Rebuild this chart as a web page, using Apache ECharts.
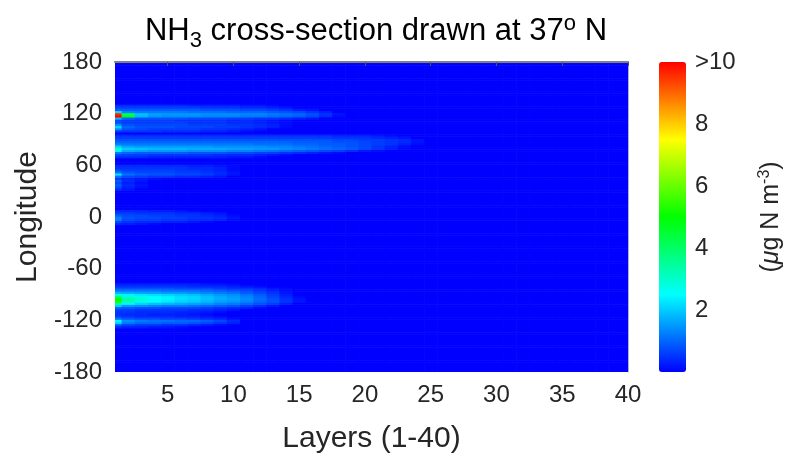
<!DOCTYPE html>
<html>
<head>
<meta charset="utf-8">
<script src="https://cdn.jsdelivr.net/npm/echarts@6.0.0/dist/echarts.min.js"></script>
<style>
  html, body { margin: 0; background: #fff; }
  #chart { width: 787px; height: 460px; }
</style>
</head>
<body>
<div id="chart"></div>
<script>
// Layers along the x axis and the ticks shown on it
const layers = [1, 2, 3, 4, 5, 6, 7, 8, 9, 10, 11, 12, 13, 14, 15, 16, 17, 18, 19, 20,
                21, 22, 23, 24, 25, 26, 27, 28, 29, 30, 31, 32, 33, 34, 35, 36, 37, 38, 39, 40];
const layerTicks = [5, 10, 15, 20, 25, 30, 35, 40];

// Longitude grid spacing (deg); rows not listed below are ~0
const lonStep = 2.5;

// Longitudes of the rows that carry NH3, and their values per layer (from layer 1, ug N m-3)
const rowLons = [
  130, 127.5, 125, 122.5, 120, 117.5, 115, 112.5, 110, 107.5, 105, 102.5, 100,
  95, 92.5, 90, 87.5, 85, 82.5, 80, 77.5, 75, 72.5, 70,
  60, 57.5, 55, 52.5, 50, 47.5, 45, 42.5, 40, 37.5, 35, 32.5,
  7.5, 5, 2.5, 0, -2.5, -5, -7.5,
  -77.5, -80, -82.5, -85, -87.5, -90, -92.5, -95, -97.5, -100, -102.5, -105, -107.5, -110, -112.5,
  -115, -117.5, -120, -122.5, -125, -127.5
];
const rowValues = [
  [0.4, 0.4, 0.4, 0.4, 0.4, 0.4, 0.3, 0.3, 0.3, 0.3, 0.2, 0.2, 0.1],
  [0.6, 0.6, 0.6, 0.6, 0.6, 0.6, 0.6, 0.5, 0.5, 0.5, 0.4, 0.4, 0.3, 0.2],
  [0.9, 0.9, 0.9, 0.9, 0.9, 0.9, 0.9, 0.8, 0.8, 0.8, 0.7, 0.7, 0.6, 0.5, 0.3, 0.2],
  [2.2, 1.3, 1.2, 1.2, 1.2, 1.2, 1.1, 1.1, 1.1, 1.0, 1.0, 1.0, 0.9, 0.8, 0.7, 0.5, 0.3],
  [9.6, 4.2, 1.9, 1.6, 1.5, 1.5, 1.5, 1.4, 1.4, 1.4, 1.3, 1.3, 1.2, 1.1, 1.0, 0.8, 0.5, 0.2],
  [11, 4.6, 1.8, 1.5, 1.4, 1.4, 1.4, 1.3, 1.3, 1.3, 1.2, 1.2, 1.1, 1.0, 0.9, 0.7, 0.4, 0.1],
  [1.8, 1.0, 0.8, 0.8, 0.8, 0.8, 0.7, 0.7, 0.7, 0.6, 0.6, 0.5, 0.5, 0.4, 0.3, 0.2],
  [0.7, 0.6, 0.6, 0.6, 0.6, 0.5, 0.5, 0.5, 0.5, 0.4, 0.4, 0.3, 0.2, 0.1],
  [0.8, 0.6, 0.6, 0.6, 0.6, 0.6, 0.5, 0.5, 0.5, 0.4, 0.4, 0.3, 0.2, 0.1],
  [1.4, 0.8, 0.7, 0.7, 0.7, 0.7, 0.6, 0.6, 0.6, 0.5, 0.5, 0.4, 0.3, 0.1],
  [2.1, 1.0, 0.8, 0.8, 0.8, 0.7, 0.7, 0.7, 0.6, 0.6, 0.5, 0.4, 0.3, 0.1],
  [1.4, 0.8, 0.7, 0.6, 0.6, 0.6, 0.6, 0.5, 0.5, 0.4, 0.3, 0.2],
  [0.5, 0.5, 0.5, 0.5, 0.4, 0.4, 0.4, 0.3, 0.3, 0.2, 0.1],
  [0.4, 0.4, 0.4, 0.4, 0.4, 0.4, 0.4, 0.4, 0.4, 0.4, 0.4, 0.4, 0.4, 0.4, 0.4, 0.4, 0.4, 0.3, 0.3, 0.3, 0.2, 0.1],
  [0.6, 0.6, 0.6, 0.6, 0.6, 0.6, 0.6, 0.6, 0.6, 0.6, 0.6, 0.6, 0.6, 0.6, 0.6, 0.6, 0.6, 0.5, 0.5, 0.5, 0.4, 0.3, 0.2],
  [0.8, 0.8, 0.8, 0.8, 0.8, 0.8, 0.8, 0.8, 0.8, 0.8, 0.8, 0.8, 0.8, 0.8, 0.8, 0.8, 0.8, 0.7, 0.7, 0.6, 0.6, 0.5, 0.4, 0.2],
  [1.0, 1.0, 1.0, 1.0, 1.0, 1.0, 1.0, 1.0, 1.0, 1.0, 1.0, 1.0, 1.0, 1.0, 0.9, 0.9, 0.9, 0.8, 0.8, 0.7, 0.6, 0.5, 0.4, 0.2],
  [1.3, 1.2, 1.2, 1.2, 1.2, 1.2, 1.2, 1.2, 1.2, 1.2, 1.2, 1.1, 1.1, 1.1, 1.0, 1.0, 0.9, 0.9, 0.8, 0.7, 0.6, 0.5, 0.3, 0.1],
  [2.0, 1.6, 1.5, 1.5, 1.5, 1.5, 1.5, 1.5, 1.4, 1.4, 1.4, 1.4, 1.3, 1.3, 1.2, 1.1, 1.0, 0.9, 0.8, 0.7, 0.5, 0.3, 0.1],
  [3.0, 2.0, 1.9, 1.8, 1.8, 1.8, 1.7, 1.7, 1.7, 1.6, 1.6, 1.5, 1.5, 1.4, 1.3, 1.2, 1.1, 1.0, 0.9, 0.7, 0.5, 0.3, 0.1],
  [2.4, 1.7, 1.6, 1.5, 1.5, 1.5, 1.4, 1.4, 1.4, 1.3, 1.3, 1.2, 1.1, 1.0, 0.9, 0.8, 0.7, 0.6, 0.4, 0.2, 0.1],
  [1.2, 1.0, 0.9, 0.9, 0.9, 0.9, 0.8, 0.8, 0.8, 0.7, 0.7, 0.6, 0.6, 0.5, 0.4, 0.3, 0.2, 0.1],
  [0.7, 0.6, 0.6, 0.5, 0.5, 0.5, 0.5, 0.5, 0.4, 0.4, 0.4, 0.3, 0.2, 0.1],
  [0.4, 0.4, 0.4, 0.3, 0.3, 0.3, 0.3, 0.3, 0.3, 0.2, 0.2, 0.1],
  [0.4, 0.4, 0.4, 0.4, 0.4, 0.4, 0.3, 0.3, 0.2, 0.1],
  [0.5, 0.5, 0.5, 0.5, 0.5, 0.5, 0.4, 0.4, 0.3, 0.1],
  [0.7, 0.6, 0.6, 0.6, 0.6, 0.5, 0.5, 0.4, 0.3, 0.1],
  [1.1, 0.8, 0.7, 0.7, 0.7, 0.6, 0.6, 0.5, 0.4, 0.2],
  [2.2, 1.1, 0.9, 0.8, 0.8, 0.7, 0.7, 0.6, 0.4, 0.2],
  [1.1, 0.7, 0.6, 0.5, 0.5, 0.4, 0.4, 0.3, 0.2],
  [0.5, 0.3, 0.2, 0.1],
  [0.9, 0.4, 0.2],
  [0.7, 0.3, 0.1],
  [0.9, 0.4, 0.2],
  [0.7, 0.3, 0.1],
  [0.4, 0.2],
  [0.4, 0.4, 0.4, 0.3, 0.3, 0.2, 0.1],
  [0.6, 0.6, 0.5, 0.5, 0.5, 0.4, 0.4, 0.3, 0.2],
  [0.9, 0.7, 0.7, 0.6, 0.6, 0.5, 0.5, 0.4, 0.3, 0.1],
  [1.2, 0.8, 0.7, 0.7, 0.6, 0.6, 0.5, 0.5, 0.4, 0.2],
  [1.2, 0.7, 0.6, 0.6, 0.5, 0.5, 0.4, 0.4, 0.3, 0.1],
  [0.7, 0.5, 0.4, 0.4, 0.3, 0.3, 0.2, 0.1],
  [0.4, 0.3, 0.2, 0.1],
  [0.3, 0.3, 0.3, 0.3, 0.3, 0.3, 0.3, 0.2, 0.2, 0.1],
  [0.5, 0.5, 0.5, 0.5, 0.5, 0.5, 0.4, 0.4, 0.4, 0.3, 0.2, 0.1],
  [0.8, 0.8, 0.8, 0.8, 0.8, 0.7, 0.7, 0.7, 0.6, 0.5, 0.5, 0.4, 0.2, 0.1],
  [1.2, 1.2, 1.2, 1.2, 1.1, 1.1, 1.1, 1.0, 0.9, 0.8, 0.7, 0.5, 0.3, 0.1],
  [1.8, 1.7, 1.6, 1.6, 1.5, 1.5, 1.4, 1.3, 1.2, 1.1, 0.9, 0.7, 0.5, 0.2],
  [2.9, 2.4, 2.3, 2.2, 2.1, 2.0, 1.9, 1.7, 1.5, 1.4, 1.2, 0.9, 0.6, 0.3],
  [4.0, 3.0, 2.7, 2.5, 2.4, 2.2, 2.1, 1.9, 1.7, 1.5, 1.3, 1.0, 0.7, 0.4, 0.1],
  [5.0, 3.4, 2.9, 2.6, 2.4, 2.2, 2.1, 1.9, 1.7, 1.6, 1.4, 1.1, 0.8, 0.5, 0.2],
  [5.2, 3.3, 2.8, 2.5, 2.3, 2.1, 2.0, 1.8, 1.6, 1.5, 1.3, 1.0, 0.8, 0.5, 0.2],
  [3.6, 2.4, 2.1, 1.9, 1.8, 1.7, 1.6, 1.5, 1.3, 1.2, 1.0, 0.8, 0.6, 0.3],
  [2.0, 1.5, 1.4, 1.3, 1.2, 1.2, 1.1, 1.0, 0.9, 0.8, 0.6, 0.4, 0.2],
  [1.0, 0.9, 0.8, 0.8, 0.7, 0.7, 0.7, 0.6, 0.5, 0.4, 0.3, 0.1],
  [0.6, 0.6, 0.5, 0.5, 0.5, 0.5, 0.4, 0.4, 0.3, 0.2],
  [0.5, 0.5, 0.4, 0.4, 0.4, 0.3, 0.3, 0.2, 0.1],
  [0.5, 0.4, 0.4, 0.3, 0.3, 0.3, 0.2, 0.1],
  [0.6, 0.5, 0.4, 0.4, 0.4, 0.3, 0.3, 0.2, 0.1],
  [1.1, 0.8, 0.7, 0.7, 0.6, 0.6, 0.5, 0.4, 0.3, 0.1],
  [2.4, 1.4, 1.2, 1.1, 1.1, 1.0, 1.0, 0.9, 0.7, 0.4],
  [2.1, 1.2, 1.0, 1.0, 0.9, 0.9, 0.8, 0.7, 0.5, 0.3],
  [0.8, 0.6, 0.5, 0.5, 0.4, 0.4, 0.3, 0.2, 0.1],
  [0.4, 0.3, 0.3, 0.2, 0.2, 0.1]
];

// Colour scale (jet-like) and its upper limit
const colorMax = 10;
const jetColors = ['#0000ff', '#00ffff', '#00ff00', '#ffff00', '#ff0000'];

const FONT = '"Liberation Sans", Arial, Helvetica, sans-serif';
const TEXT = '#262626';

/**
 * Build the full layer x longitude table: listed rows, zero elsewhere
 */
function buildCells() {
    const cells = [];
    for (let lon = -180; lon <= 180; lon += lonStep) {
        const idx = rowLons.indexOf(lon);
        const vals = idx >= 0 ? rowValues[idx] : [];
        layers.forEach((layer, i) => {
            const v = i < vals.length ? vals[i] : 0;
            cells.push([layer, lon, Math.min(v, colorMax)]);
        });
    }
    return cells;
}

function renderCell(params, api) {
    const layer = api.value(0);
    const lon = api.value(1);
    const p0 = api.coord([layer - 0.5, lon + lonStep / 2]);
    const p1 = api.coord([layer + 0.5, lon - lonStep / 2]);
    const shape = echarts.graphic.clipRectByRect(
        { x: p0[0], y: p0[1], width: p1[0] - p0[0] + 0.6, height: p1[1] - p0[1] + 0.6 },
        { x: params.coordSys.x, y: params.coordSys.y, width: params.coordSys.width, height: params.coordSys.height }
    );
    return shape && { type: 'rect', shape: shape, style: { fill: api.visual('color') } };
}

const chart = echarts.init(document.getElementById('chart'));

const titleText = { fontFamily: FONT, color: '#000', fontWeight: 'normal' };

const option = {
    animation: false,
    textStyle: { fontFamily: FONT },
    title: {
        text: '{t|NH}{sub|3}{t| cross-section drawn at 37}{sup|o}{t| N}',
        left: 371,
        top: 9,
        textAlign: 'center',
        textStyle: {
            fontWeight: 'normal',
            rich: {
                t: { ...titleText, fontSize: 31, lineHeight: 34 },
                sub: { ...titleText, fontSize: 22, lineHeight: 22, padding: [19, 0, 0, 0] },
                sup: { ...titleText, fontSize: 22, lineHeight: 22, padding: [0, 0, 15, 0] }
            }
        }
    },
    grid: [
        { left: 115, right: 159, top: 62, bottom: 88 },
        { left: 659, width: 27, top: 62, height: 310 }
    ],
    visualMap: {
        type: 'continuous',
        min: 0,
        max: colorMax,
        dimension: 2,
        seriesIndex: 0,
        calculable: false,
        left: 659,
        top: 62,
        padding: 0,
        itemWidth: 27,
        itemHeight: 310,
        inRange: { color: jetColors }
    },
    xAxis: [
        {
            type: 'value',
            gridIndex: 0,
            min: 1,
            max: 40,
            name: 'Layers (1-40)',
            nameLocation: 'middle',
            nameGap: 52,
            nameTextStyle: { fontSize: 30, color: TEXT },
            axisLine: { show: false, onZero: false },
            axisTick: { show: false },
            splitLine: { show: false },
            axisLabel: { customValues: layerTicks, fontSize: 24, color: TEXT, margin: 11 }
        },
        {
            type: 'value',
            gridIndex: 0,
            position: 'top',
            min: 1,
            max: 40,
            z: 10,
            axisLine: { show: true, onZero: false, lineStyle: { color: '#808080', width: 2 } },
            axisTick: { show: true, inside: true, length: 4, customValues: layerTicks, lineStyle: { color: '#555' } },
            axisLabel: { show: false },
            splitLine: { show: false }
        },
        { type: 'value', gridIndex: 1, min: 0, max: 1, show: false }
    ],
    yAxis: [
        {
            type: 'value',
            gridIndex: 0,
            min: -180,
            max: 180,
            interval: 60,
            name: 'Longitude',
            nameLocation: 'middle',
            nameGap: 72,
            nameTextStyle: { fontSize: 30, color: TEXT },
            axisLine: { show: false, onZero: false },
            axisTick: { show: false },
            splitLine: { show: false },
            axisLabel: { fontSize: 24, color: TEXT, margin: 13 }
        },
        {
            type: 'value',
            gridIndex: 0,
            position: 'right',
            min: -180,
            max: 180,
            z: 10,
            axisLine: { show: true, onZero: false, lineStyle: { color: '#b0b0c8', width: 1 } },
            axisTick: { show: false },
            axisLabel: { show: false },
            splitLine: { show: false }
        },
        {
            type: 'value',
            gridIndex: 1,
            position: 'right',
            min: 0,
            max: colorMax,
            interval: 2,
            z: 10,
            name: '{n|(}{mu|μ}{n|g N m}{sup|-3}{n|)}',
            nameLocation: 'middle',
            nameRotate: 90,
            nameGap: 74,
            nameTextStyle: {
                rich: {
                    n: { fontFamily: FONT, fontSize: 25, color: TEXT, lineHeight: 27 },
                    mu: { fontFamily: FONT, fontSize: 25, color: TEXT, fontStyle: 'italic', lineHeight: 27 },
                    sup: { fontFamily: FONT, fontSize: 16, color: TEXT, lineHeight: 16, padding: [0, 0, 13, 0] }
                }
            },
            axisLine: { show: false, onZero: false },
            axisTick: { show: false },
            splitLine: { show: false },
            axisLabel: {
                fontSize: 24,
                color: TEXT,
                margin: 11,
                formatter: v => (v === colorMax ? '>10' : v === 0 ? '' : String(v))
            }
        }
    ],
    series: [
        {
            type: 'custom',
            xAxisIndex: 0,
            yAxisIndex: 0,
            renderItem: renderCell,
            encode: { x: 0, y: 1 },
            silent: true,
            data: buildCells()
        }
    ]
};

chart.setOption(option);
</script>
</body>
</html>
